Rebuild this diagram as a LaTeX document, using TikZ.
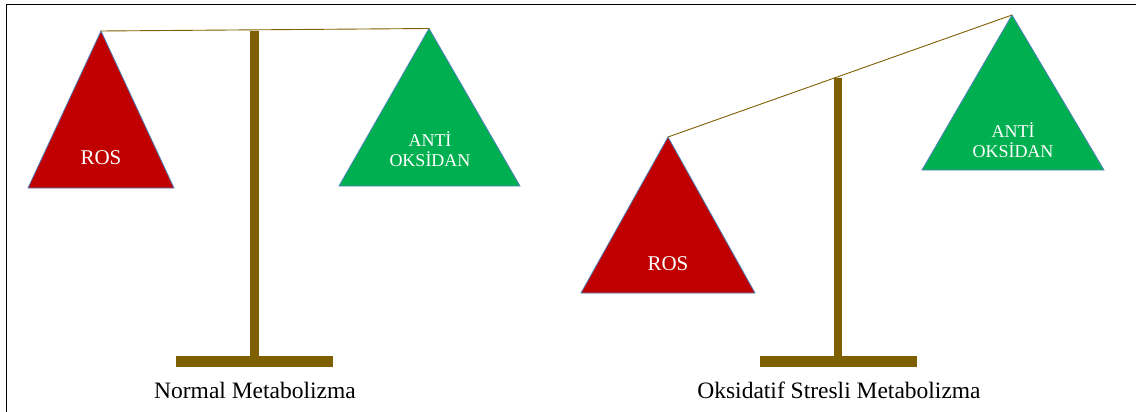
\documentclass[tikz,border=0pt]{standalone}
\usepackage{fontspec}
\setmainfont{Liberation Serif}
\definecolor{rosred}{HTML}{C00000}
\definecolor{antigreen}{HTML}{00B050}
\definecolor{scalebrown}{HTML}{7F6000}
\definecolor{edgeblue}{HTML}{4F81BD}
\begin{document}
\begin{tikzpicture}[x=1pt,y=-1pt,
  pan/.style={draw=edgeblue,line width=0.8pt,line join=miter},
  stand/.style={fill=scalebrown,draw=none},
  beam/.style={draw=scalebrown,line width=0.9pt},
  panlabel/.style={text=white,font=\fontsize{18}{20}\selectfont,align=center,inner sep=0pt},
  roslabel/.style={text=white,font=\fontsize{21}{24}\selectfont,inner sep=0pt},
  caption/.style={text=black,font=\fontsize{23.5}{26}\selectfont,inner sep=0pt}]
\useasboundingbox (0,0) rectangle (1136,412);
% frame
\draw[line width=1.6pt] (6.5,412) -- (6.5,4.5) -- (1136,4.5);
% ---- left scale
\fill[stand] (250,31) rectangle (259,358);
\fill[stand] (176,356) rectangle (333,367);
\coordinate (lA) at (101,31);
\coordinate (lB) at (429,28.5);
\fill[rosred,pan] (lA) -- (28,188) -- (174,188) -- cycle;
\fill[antigreen,pan] (lB) -- (339,186) -- (520,186) -- cycle;
\draw[beam] (lA) -- (lB);
\node[roslabel] (lros) at (101,158) {ROS};
\node[panlabel] (lanti) at (430,149) {ANTİ\\OKSİDAN};
\node[caption] (lcap) at (255,390) {Normal Metabolizma};
% ---- right scale
\fill[stand] (834,78) rectangle (842,358);
\fill[stand] (760,356) rectangle (917,367);
\coordinate (rA) at (668,137);
\coordinate (rB) at (1012,15);
\fill[rosred,pan] (rA) -- (581,293) -- (755,293) -- cycle;
\fill[antigreen,pan] (rB) -- (922,170) -- (1104,170) -- cycle;
\draw[beam] (rA) -- (rB);
\node[roslabel] (rros) at (668,264) {ROS};
\node[panlabel] (ranti) at (1013,140) {ANTİ\\OKSİDAN};
\node[caption] (rcap) at (839,390) {Oksidatif Stresli Metabolizma};
\end{tikzpicture}
\end{document}
